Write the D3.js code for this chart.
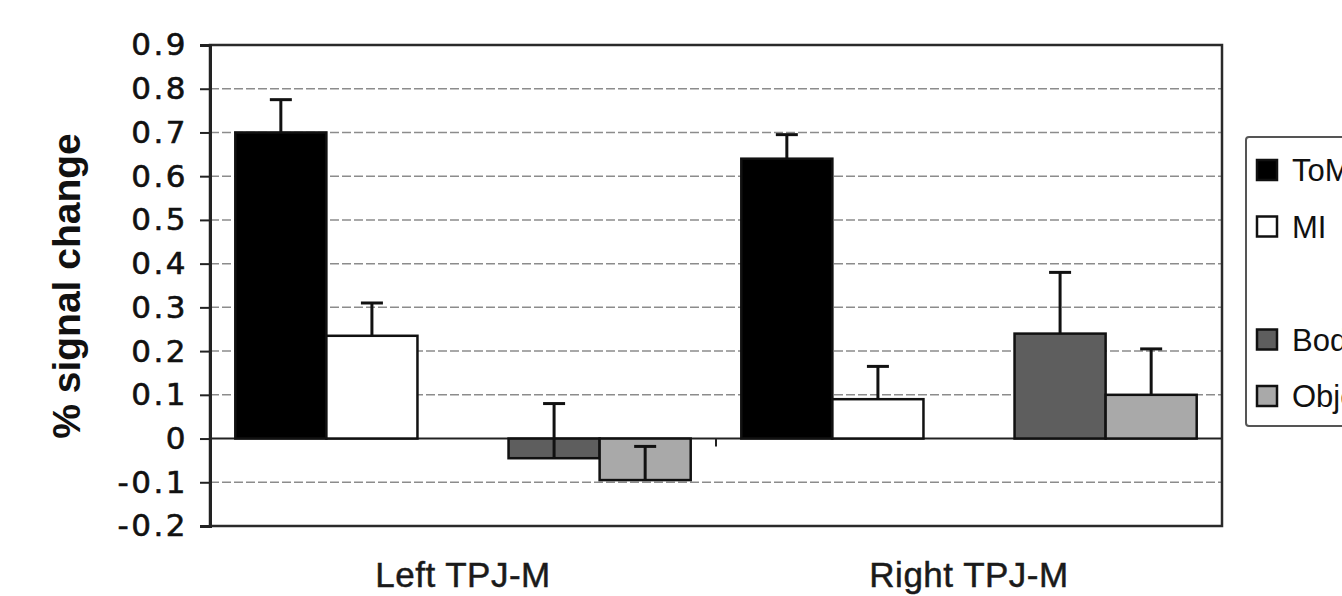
<!DOCTYPE html>
<html>
    <head>
        <meta charset="utf-8">
        <style>
            body { margin: 0; background: #fff; }
            svg { display: block; }
        </style>
    </head>
    <body>
        <svg width="1342" height="596"></svg>
        <script src="https://d3js.org/d3.v7.min.js"></script>
        <script>
            // data
            let regions = ["Left TPJ-M", "Right TPJ-M"];
            // the third slot is an empty series (gap in the bars and in the legend)
            let seriesNames = ["ToM", "MI", "", "Body", "Object"];
            let seriesColors = ["#000000", "#ffffff", "none", "#5e5e5e", "#a9a9a9"];
            let tomValues = [0.70, 0.64];
            let miValues = [0.235, 0.09];
            let blankValues = [null, null];
            let bodyValues = [-0.045, 0.24];
            let objectValues = [-0.095, 0.10];
            let tomErrors = [0.075, 0.055];
            let miErrors = [0.075, 0.075];
            let blankErrors = [null, null];
            let bodyErrors = [0.125, 0.14];
            let objectErrors = [0.077, 0.105];
            let yTicks = [0.9, 0.8, 0.7, 0.6, 0.5, 0.4, 0.3, 0.2, 0.1, 0, -0.1, -0.2];
            let yTickLabels = ["0.9", "0.8", "0.7", "0.6", "0.5", "0.4", "0.3", "0.2", "0.1", "0", "-0.1", "-0.2"];

            let allValues = [tomValues, miValues, blankValues, bodyValues, objectValues];
            let allErrors = [tomErrors, miErrors, blankErrors, bodyErrors, objectErrors];

            let svg = d3.select("svg");
            let plot = {left: 210, right: 1222, top: 45, bottom: 526};

            let x0 = d3.scaleBand()
                .domain(regions)
                .range([plot.left, plot.right])
                .paddingInner(0.1)
                .paddingOuter(0.05);
            let x1 = d3.scaleBand()
                .domain(d3.range(seriesNames.length))
                .range([0, x0.bandwidth()]);
            let y = d3.scaleLinear()
                .domain([-0.2, 0.9])
                .range([plot.bottom, plot.top]);

            // gridlines
            svg.append("g")
                .selectAll("line")
                .data(yTicks.filter(d => d !== 0.9 && d !== 0 && d !== -0.2))
                .enter()
                .append("line")
                .attr("x1", plot.left)
                .attr("x2", plot.right)
                .attr("y1", d => y(d))
                .attr("y2", d => y(d))
                .attr("stroke", "#8c8c8c")
                .attr("stroke-width", 1.5)
                .attr("stroke-dasharray", "9,3");

            // zero line and category boundary ticks
            svg.append("line")
                .attr("x1", plot.left).attr("x2", plot.right)
                .attr("y1", y(0)).attr("y2", y(0))
                .attr("stroke", "#222").attr("stroke-width", 2);
            svg.append("g")
                .selectAll("line")
                .data([plot.left, x0.range()[0] + x0.step(), plot.right])
                .enter()
                .append("line")
                .attr("x1", d => d).attr("x2", d => d)
                .attr("y1", y(0)).attr("y2", y(0) + 8)
                .attr("stroke", "#222").attr("stroke-width", 2);

            // bars
            let cells = [];
            regions.forEach(function(r, i) {
                seriesNames.forEach(function(s, j) {
                    if (allValues[j][i] !== null) {
                        cells.push({region: r, slot: j, value: allValues[j][i], err: allErrors[j][i]});
                    }
                });
            });

            svg.append("g")
                .selectAll("rect")
                .data(cells)
                .enter()
                .append("rect")
                .attr("x", d => x0(d.region) + x1(d.slot))
                .attr("width", x1.bandwidth())
                .attr("y", d => y(Math.max(0, d.value)))
                .attr("height", d => Math.abs(y(d.value) - y(0)))
                .attr("fill", d => seriesColors[d.slot])
                .attr("stroke", "#111")
                .attr("stroke-width", 2.5);

            // error bars (plus direction only)
            let errG = svg.append("g")
                .attr("stroke", "#111")
                .attr("stroke-width", 3);
            errG.selectAll("line.v")
                .data(cells)
                .enter()
                .append("line")
                .attr("class", "v")
                .attr("x1", d => x0(d.region) + x1(d.slot) + x1.bandwidth() / 2)
                .attr("x2", d => x0(d.region) + x1(d.slot) + x1.bandwidth() / 2)
                .attr("y1", d => y(d.value))
                .attr("y2", d => y(d.value + d.err));
            errG.selectAll("line.cap")
                .data(cells)
                .enter()
                .append("line")
                .attr("class", "cap")
                .attr("x1", d => x0(d.region) + x1(d.slot) + x1.bandwidth() / 2 - 11)
                .attr("x2", d => x0(d.region) + x1(d.slot) + x1.bandwidth() / 2 + 11)
                .attr("y1", d => y(d.value + d.err))
                .attr("y2", d => y(d.value + d.err));

            // plot frame
            svg.append("rect")
                .attr("x", plot.left)
                .attr("y", plot.top)
                .attr("width", plot.right - plot.left)
                .attr("height", plot.bottom - plot.top)
                .attr("fill", "none")
                .attr("stroke", "#2a2a2a")
                .attr("stroke-width", 2.5);

            // y axis
            let yAxis = svg.append("g")
                .attr("transform", "translate(" + plot.left + ",0)")
                .call(d3.axisLeft(y)
                    .tickValues(yTicks)
                    .tickFormat((d, i) => yTickLabels[i])
                    .tickSize(10)
                    .tickPadding(12));
            yAxis.select(".domain")
                .attr("stroke", "#222")
                .attr("stroke-width", 3);
            yAxis.selectAll(".tick line")
                .attr("stroke", "#222")
                .attr("stroke-width", 2);
            yAxis.selectAll(".tick text")
                .attr("fill", "#111")
                .attr("stroke", "#111")
                .attr("stroke-width", 0.6)
                .style("font-family", "'DejaVu Sans', sans-serif")
                .style("font-size", "31px")
                .style("letter-spacing", "2.5px");

            // x axis labels
            let xAxis = svg.append("g")
                .attr("transform", "translate(0," + plot.bottom + ")")
                .call(d3.axisBottom(x0).tickSize(0).tickPadding(36));
            xAxis.select(".domain").remove();
            xAxis.selectAll(".tick text")
                .attr("fill", "#1a1a1a")
                .attr("stroke", "#1a1a1a")
                .attr("stroke-width", 0.5)
                .style("font-family", "'Liberation Sans', Arial, sans-serif")
                .style("font-size", "35px")
                .style("letter-spacing", "0.5px");

            // y title
            svg.append("text")
                .attr("transform", "translate(80,286) rotate(-90)")
                .attr("text-anchor", "middle")
                .style("font-family", "'Liberation Sans', Arial, sans-serif")
                .style("font-weight", "bold")
                .style("font-size", "39px")
                .attr("fill", "#111")
                .text("% signal change");

            // legend (box runs past the right edge, as in the figure)
            let legend = svg.append("g")
                .attr("transform", "translate(1246,137)");
            legend.append("rect")
                .attr("width", 140)
                .attr("height", 289)
                .attr("rx", 3)
                .attr("fill", "#fff")
                .attr("stroke", "#555")
                .attr("stroke-width", 2);
            let item = legend.selectAll("g.item")
                .data(seriesNames.map((s, i) => ({name: s, i: i})).filter(d => d.name !== ""))
                .enter()
                .append("g")
                .attr("class", "item")
                .attr("transform", d => "translate(0," + (33 + d.i * 56.5) + ")");
            item.append("rect")
                .attr("x", 11)
                .attr("y", -10)
                .attr("width", 20)
                .attr("height", 20)
                .attr("fill", d => seriesColors[d.i])
                .attr("stroke", "#111")
                .attr("stroke-width", 2.5);
            item.append("text")
                .attr("x", 46)
                .attr("dy", "0.36em")
                .style("font-family", "'Liberation Sans', Arial, sans-serif")
                .style("font-size", "31px")
                .attr("fill", "#111")
                .text(d => d.name);
        </script>
    </body>
</html>
